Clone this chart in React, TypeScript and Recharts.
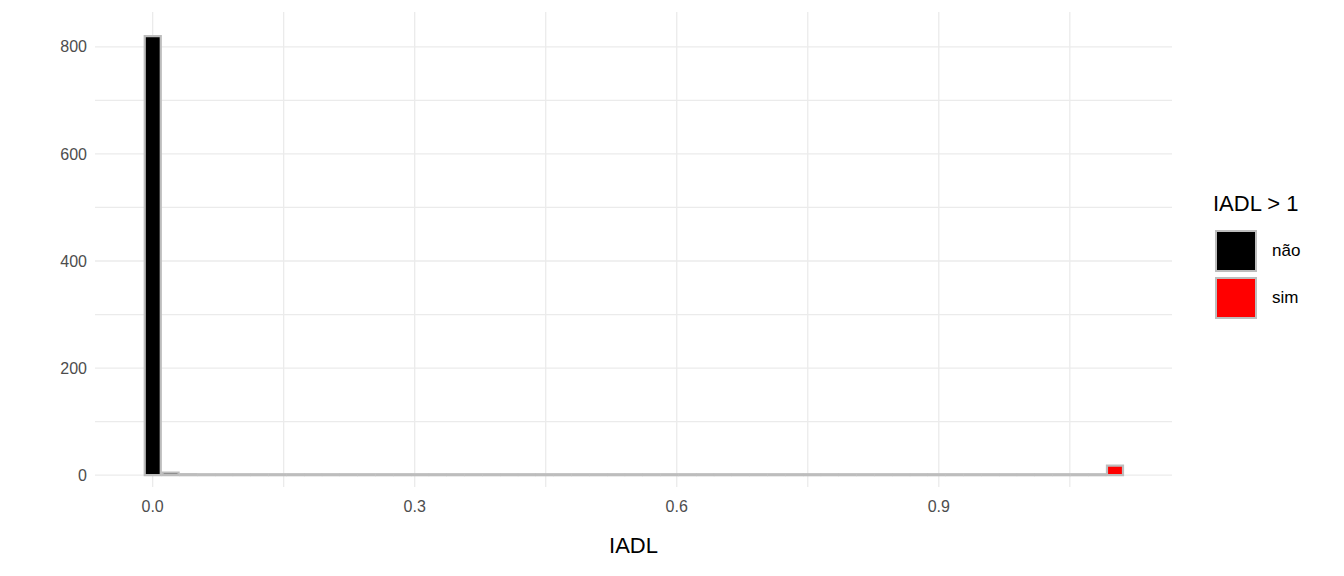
import { Bar, BarChart, CartesianGrid, Cell, XAxis, YAxis } from 'recharts'

const binWidth = 0.0204
const counts = [
  820, 5, 2, 1, 1, 0, 0, 0, 1, 1, 0, 0, 0, 0, 0, 0, 0, 1, 1, 0,
  1, 0, 0, 0, 0, 0, 0, 0, 0, 0, 0, 0, 0, 0, 0, 0, 0, 0, 0, 1,
  0, 0, 0, 0, 0, 0, 0, 0, 0, 0, 0, 0, 0, 0, 18,
]
const groups = counts.map((_, i) => (i === counts.length - 1 ? 'sim' : 'não'))
const data = counts.map((n, i) => ({ x: i * binWidth, n, g: groups[i] }))
const xTicks = [0, 0.15, 0.3, 0.45, 0.6, 0.75, 0.9, 1.05]
const yTicks = [0, 100, 200, 300, 400, 500, 600, 700, 800]
const legendItems = [
  { label: 'não', color: '#000000' },
  { label: 'sim', color: '#ff0000' },
]

const font = 'Liberation Sans, Arial, sans-serif'

export default function App() {
  return (
    <div style={{ position: 'relative', width: 1344, height: 576, margin: -8, fontFamily: font }}>
      <BarChart
        width={1180}
        height={576}
        data={data}
        margin={{ top: 12, right: 8, left: 0, bottom: 0 }}
        barGap={0}
      >
        <CartesianGrid stroke="#ebebeb" strokeWidth={1.3} horizontalValues={yTicks} verticalValues={xTicks} />
        <XAxis
          dataKey="x"
          type="number"
          domain={[-0.066, 1.167]}
          ticks={xTicks}
          interval={0}
          tickFormatter={(v: number) => (Math.round(v * 100) % 30 === 0 ? v.toFixed(1) : '')}
          axisLine={false}
          tickLine={false}
          tick={{ fill: '#4d4d4d', fontSize: 16, fontFamily: font }}
          tickMargin={8}
          height={89}
          label={{ value: 'IADL', position: 'insideTop', offset: 50, fill: '#000', fontSize: 22, fontFamily: font }}
        />
        <YAxis
          type="number"
          domain={[-22, 865]}
          ticks={yTicks}
          interval={0}
          tickFormatter={(v: number) => (v % 200 === 0 ? String(v) : '')}
          axisLine={false}
          tickLine={false}
          tick={{ fill: '#4d4d4d', fontSize: 16, fontFamily: font }}
          width={95}
          allowDataOverflow
        />
        <Bar dataKey="n" barSize={18} minPointSize={1} stroke="#bdbdbd" strokeWidth={2.2} isAnimationActive={false}>
          {data.map((d, i) => (
            <Cell key={i} fill={d.g === 'sim' ? '#ff0000' : '#000000'} />
          ))}
        </Bar>
      </BarChart>
      <div style={{ position: 'absolute', left: 1213, top: 191, fontSize: 22 }}>IADL &gt; 1</div>
      {legendItems.map((it, i) => (
        <div key={it.label} style={{ position: 'absolute', left: 1215, top: 230 + i * 47, display: 'flex', alignItems: 'center' }}>
          <div style={{ width: 42, height: 42, background: it.color, border: '2px solid #bdbdbd', boxSizing: 'border-box' }} />
          <span style={{ marginLeft: 15, fontSize: 17 }}>{it.label}</span>
        </div>
      ))}
    </div>
  )
}
